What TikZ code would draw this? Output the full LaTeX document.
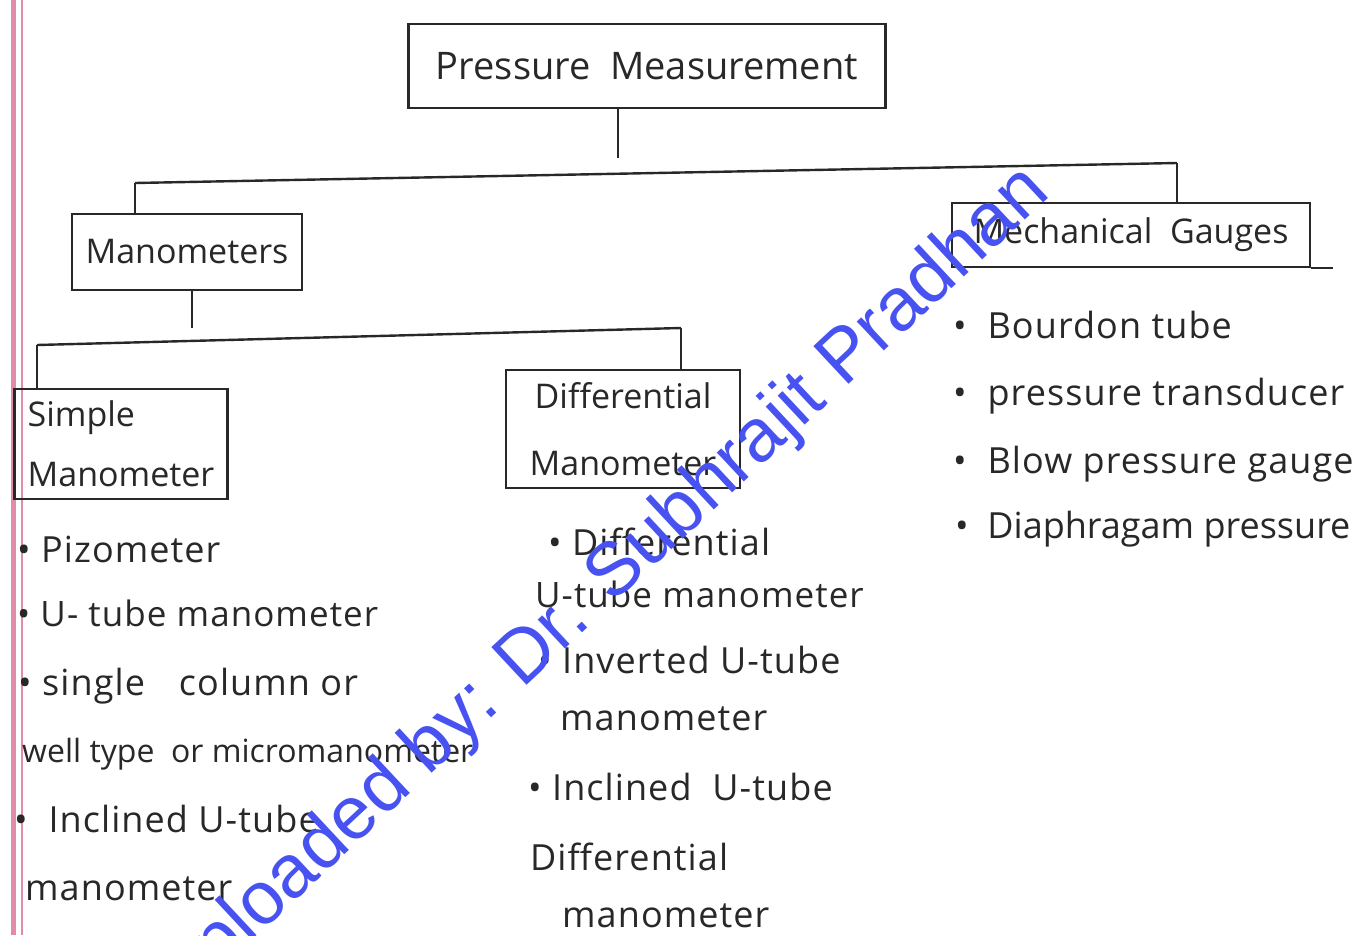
\documentclass[tikz,border=0pt]{standalone}
\usepackage{fontspec}
\setmainfont{Open Sans}
\newfontfamily\hwfont[LetterSpace=3]{Open Sans}
\newfontfamily\wmfont{Liberation Sans}
\definecolor{ink}{RGB}{40,40,40}
\definecolor{wmblue}{RGB}{72,82,240}
\definecolor{margincol}{RGB}{226,140,170}
\begin{document}
\begin{tikzpicture}[x=1pt,y=-1pt,
  hw/.style={font=\hwfont\fontsize{36}{42}\selectfont, text=ink, inner sep=0pt},
  box/.style={draw=ink, line width=2.4pt, font=\fontsize{34}{40}\selectfont, text=ink, inner sep=4pt},
  conn/.style={draw=ink, line width=2.4pt},
  item/.style={hw, anchor=base west},
  wm/.style={font=\wmfont\fontsize{75}{86}\selectfont, text=wmblue, inner sep=0pt}]
\useasboundingbox (0,0) rectangle (1368,935);
\clip (0,0) rectangle (1368,935);
\fill[white] (0,0) rectangle (1368,935);
\draw[margincol, line width=5pt] (13,0) -- (13,935);
\draw[margincol, line width=2.5pt] (22,0) -- (22,935);

% boxes
\node[box, minimum width=477pt, minimum height=84pt, font=\fontsize{38}{44}\selectfont] (pm) at (647,66) {Pressure \ Measurement};
\node[box, minimum width=230pt, minimum height=76pt] (man) at (187,252) {Manometers};
\node[box, minimum width=358pt, minimum height=64pt] (mech) at (1131,235) {Mechanical \ Gauges};
\node[box, minimum width=213pt, minimum height=110pt, align=left] (simple) at (121,444) {Simple\\[20pt]Manometer};
\node[box, minimum width=234pt, minimum height=118pt, align=center] (diff) at (623,429) {Differential\\[27pt]Manometer};

% connectors
\coordinate (st1) at (618,158);
\coordinate (bL) at (135,183);
\coordinate (bR) at (1177,163);
\draw[conn] (pm.south -| st1) -- (st1);
\draw[conn] (bL) -- (bR);
\draw[conn] (bL) -- (bL |- man.north);
\draw[conn] (bR) -- (bR |- mech.north);
\draw[conn] (mech.south east) -- ++(22,0);

\coordinate (st2) at (192,328);
\coordinate (cL) at (37,345);
\coordinate (cR) at (681,328);
\draw[conn] (man.south -| st2) -- (st2);
\draw[conn] (cL) -- (cR);
\draw[conn] (cL) -- (cL |- simple.north);
\draw[conn] (cR) -- (cR |- diff.north);

% simple manometer list
\node[item] (a1) at (17,562) {• Pizometer};
\node[item, font=\hwfont\fontsize{35}{42}\selectfont] (a2) at (17,626) {• U- tube manometer};
\node[item] (a3) at (18,695) {• single\hspace{34pt}column or};
\node[item, font=\fontsize{32}{38}\selectfont] (a4) at (22,762) {well type \ or micromanometer};
\node[item] (a5) at (14,832) {• \ Inclined U-tube};
\node[item] (a6) at (25,900) {manometer};

% differential manometer list
\node[item] (b1) at (548,555) {• Differential};
\node[item, font=\hwfont\fontsize{35}{42}\selectfont] (b2) at (535,607) {U-tube manometer};
\node[item] (b3) at (538,673) {• Inverted U-tube};
\node[item] (b4) at (560,730) {manometer};
\node[item] (b5) at (528,800) {• Inclined \ U-tube};
\node[item] (b6) at (530,870) {Differential};
\node[item] (b7) at (562,927) {manometer};

% mechanical gauges list
\node[item] (c1) at (953,338) {• \ Bourdon tube};
\node[item] (c2) at (953,405) {• \ pressure transducer};
\node[item] (c3) at (953,473) {• \ Blow pressure gauge};
\node[item, font=\fontsize{36}{42}\selectfont] (c4) at (955,538) {• \ Diaphragam pressure};

% watermark
\node[wm, rotate=43, anchor=base east] (wmk) at (1052,195) {Uploaded by: Dr. Subhrajit Pradhan};
\end{tikzpicture}
\end{document}
